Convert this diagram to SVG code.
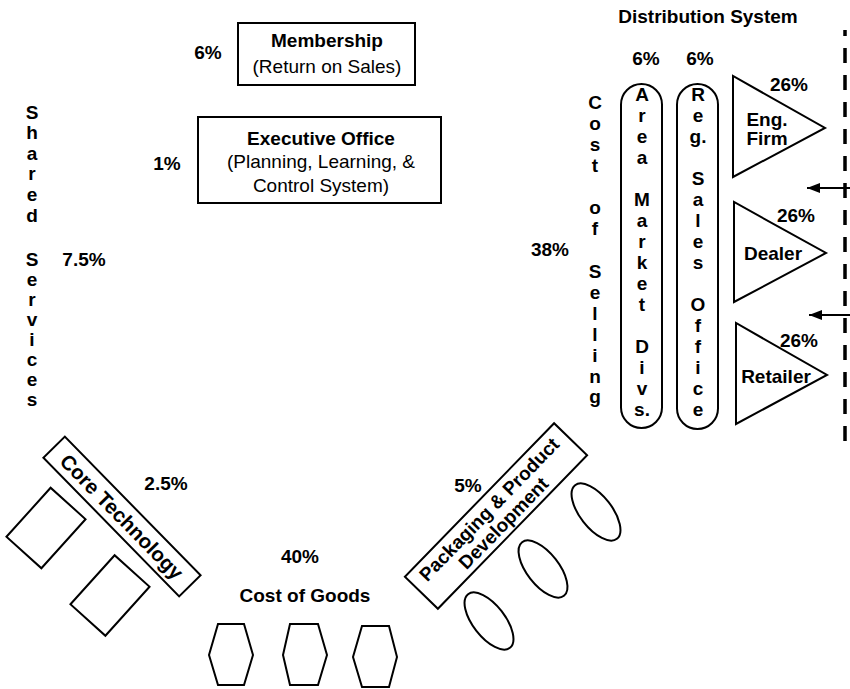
<svg xmlns="http://www.w3.org/2000/svg" width="850" height="689" viewBox="0 0 850 689">
<defs>
<style>
text{font-family:"Liberation Sans",Arial,Helvetica,sans-serif;font-size:19px;fill:#000}
.b{font-weight:bold}
.c{text-anchor:middle}
.shape{fill:#fff;stroke:#000;stroke-width:2}
.line{fill:none;stroke:#000;stroke-width:2}
</style>
<marker id="ah" viewBox="0 0 13 10" refX="13" refY="5" markerWidth="13" markerHeight="10" markerUnits="userSpaceOnUse" orient="auto">
<path d="M0,0 L13,5 L0,10 Z" fill="#000"/>
</marker>
</defs>
<rect width="850" height="689" fill="#fff"/>

<g id="membership">
<rect class="shape" x="238" y="23" width="177" height="62"/>
<text class="b c" x="327" y="47">Membership</text>
<text class="c" x="327" y="73">(Return on Sales)</text>
<text class="b c" x="208" y="59">6%</text>
</g>

<g id="executive-office">
<rect class="shape" x="198" y="117" width="243" height="86"/>
<text class="b c" x="321" y="145">Executive Office</text>
<text class="c" x="321" y="168">(Planning, Learning, &amp;</text>
<text class="c" x="321" y="192">Control System)</text>
<text class="b c" x="167" y="170">1%</text>
</g>

<g id="shared-services">
<text class="b c" x="32" y="119">S<tspan x="32" y="139">h</tspan><tspan x="32" y="160">a</tspan><tspan x="32" y="180">r</tspan><tspan x="32" y="201">e</tspan><tspan x="32" y="222">d</tspan><tspan x="32" y="266">S</tspan><tspan x="32" y="286">e</tspan><tspan x="32" y="306">r</tspan><tspan x="32" y="326">v</tspan><tspan x="32" y="346">i</tspan><tspan x="32" y="366">c</tspan><tspan x="32" y="386">e</tspan><tspan x="32" y="406">s</tspan></text>
<text class="b c" x="84" y="266">7.5%</text>
</g>

<g id="cost-of-selling">
<text class="b c" x="595" y="109">C<tspan x="595" y="130">o</tspan><tspan x="595" y="151">s</tspan><tspan x="595" y="172">t</tspan><tspan x="595" y="214">o</tspan><tspan x="595" y="235">f</tspan><tspan x="595" y="278">S</tspan><tspan x="595" y="299">e</tspan><tspan x="595" y="320">l</tspan><tspan x="595" y="341">l</tspan><tspan x="595" y="362">i</tspan><tspan x="595" y="383">n</tspan><tspan x="595" y="403">g</tspan></text>
<text class="b c" x="550" y="256">38%</text>
</g>

<g id="distribution-system">
<text class="b c" x="708" y="23">Distribution System</text>
</g>

<g id="area-market-divs">
<rect class="shape" x="621" y="84" width="41" height="344" rx="20.5"/>
<text class="b c" x="646" y="65">6%</text>
<text class="b c" x="642" y="101">A<tspan x="642" y="122">r</tspan><tspan x="642" y="143">e</tspan><tspan x="642" y="164">a</tspan><tspan x="642" y="206">M</tspan><tspan x="642" y="227">a</tspan><tspan x="642" y="248">r</tspan><tspan x="642" y="269">k</tspan><tspan x="642" y="290">e</tspan><tspan x="642" y="311">t</tspan><tspan x="642" y="353">D</tspan><tspan x="642" y="374">i</tspan><tspan x="642" y="395">v</tspan><tspan x="642" y="416">s.</tspan></text>
</g>

<g id="reg-sales-office">
<rect class="shape" x="677" y="84" width="41" height="345" rx="20.5"/>
<text class="b c" x="700" y="65">6%</text>
<text class="b c" x="698" y="101">R<tspan x="698" y="122">e</tspan><tspan x="698" y="143">g.</tspan><tspan x="698" y="185">S</tspan><tspan x="698" y="206">a</tspan><tspan x="698" y="227">l</tspan><tspan x="698" y="248">e</tspan><tspan x="698" y="269">s</tspan><tspan x="698" y="311">O</tspan><tspan x="698" y="332">f</tspan><tspan x="698" y="353">f</tspan><tspan x="698" y="374">i</tspan><tspan x="698" y="395">c</tspan><tspan x="698" y="416">e</tspan></text>
</g>

<g id="eng-firm">
<polygon class="shape" points="733,76 733,177 825,128"/>
<text class="b c" x="789" y="91">26%</text>
<text class="b c" x="767" y="126">Eng.</text>
<text class="b c" x="767" y="145">Firm</text>
</g>

<g id="dealer">
<polygon class="shape" points="734,202 734,302 826,253"/>
<text class="b c" x="796" y="222">26%</text>
<text class="b c" x="773" y="260">Dealer</text>
</g>

<g id="retailer">
<polygon class="shape" points="736,323 736,424 827,375"/>
<text class="b c" x="799" y="347">26%</text>
<text class="b c" x="776" y="383">Retailer</text>
</g>

<g id="core-technology">
<g transform="translate(122,516.5) rotate(45.6)">
<rect class="shape" x="-97" y="-15" width="194" height="30"/>
<text class="b c" x="0" y="7.5" style="font-size:20.5px">Core Technology</text>
</g>
<text class="b c" x="166" y="490">2.5%</text>
<rect class="shape" x="-23.5" y="-33" width="47" height="66" transform="translate(46,528) rotate(42)"/>
<rect class="shape" x="-23.5" y="-33" width="47" height="66" transform="translate(110,595.5) rotate(42)"/>
</g>

<g id="cost-of-goods">
<text class="b c" x="300" y="563">40%</text>
<text class="b c" x="305" y="602">Cost of Goods</text>
<polygon class="shape" points="218,624 244,624 253,655 244,685 218,685 209,655"/>
<polygon class="shape" points="290,624 318,624 327,655 318,685 290,685 283,655"/>
<polygon class="shape" points="362,626 389,626 397,657 389,687 362,687 353,657"/>
</g>

<g id="packaging">
<g transform="translate(496,516) rotate(-45.8)">
<rect class="shape" x="-107" y="-23" width="214" height="46"/>
<text class="b c" x="0" y="-3">Packaging &amp; Product</text>
<text class="b c" x="0" y="17">Development</text>
</g>
<text class="b c" x="468" y="492">5%</text>
<ellipse class="shape" cx="489" cy="621" rx="34" ry="16" transform="rotate(52 489 621)"/>
<ellipse class="shape" cx="543" cy="569" rx="34" ry="16" transform="rotate(52 543 569)"/>
<ellipse class="shape" cx="596" cy="512" rx="34" ry="16" transform="rotate(52 596 512)"/>
</g>

<g id="connectors">
<line x1="845" y1="30" x2="845" y2="442" stroke="#000" stroke-width="3.5" stroke-dasharray="15 12" stroke-dashoffset="9"/>
<line class="line" x1="850" y1="188" x2="807" y2="188" marker-end="url(#ah)"/>
<line class="line" x1="850" y1="315" x2="809" y2="315" marker-end="url(#ah)"/>
</g>
</svg>
